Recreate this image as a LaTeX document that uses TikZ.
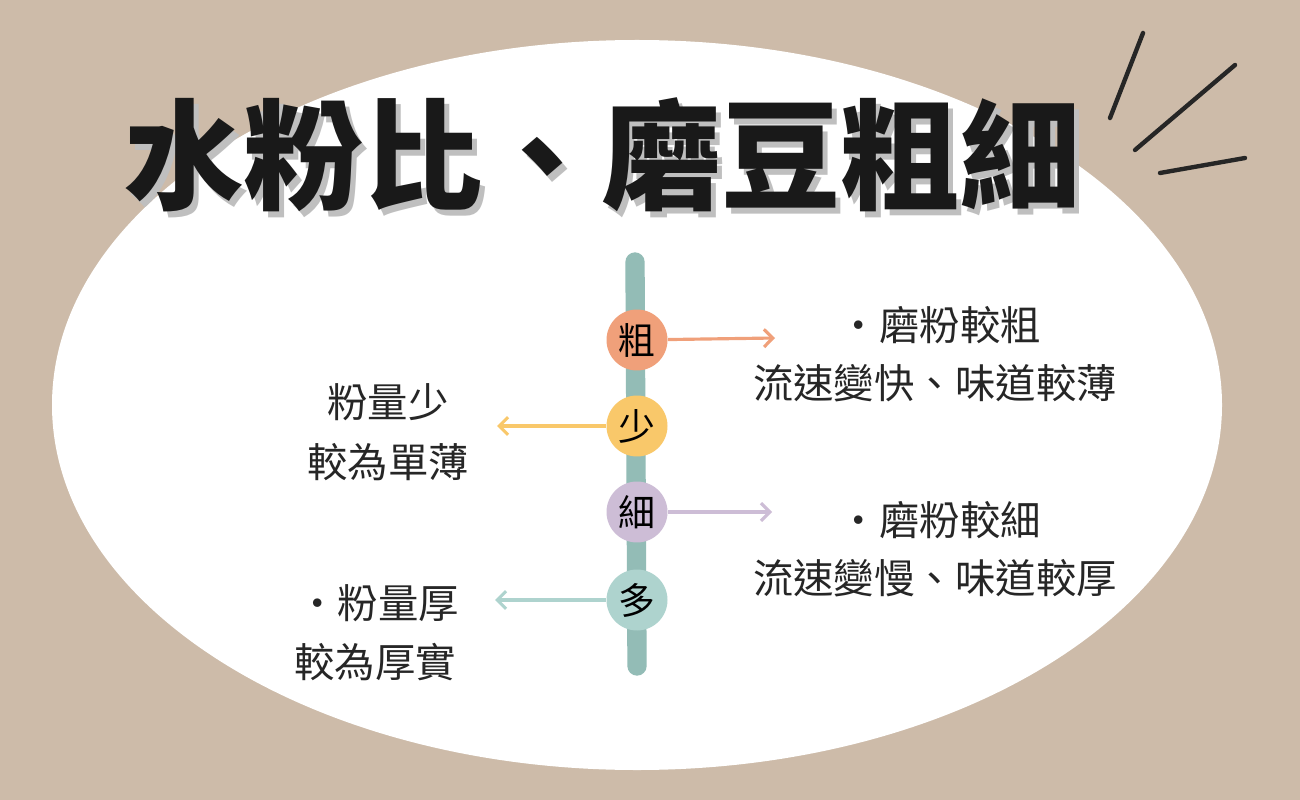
\documentclass[tikz,border=0pt]{standalone}
\usepackage{fontspec}
\setmainfont{Noto Sans CJK TC}
\newfontfamily\titlefont{Noto Sans CJK TC Black}[BoldFont={Noto Sans CJK TC Black}]
\usetikzlibrary{arrows.meta,positioning}
\definecolor{bgtan}{HTML}{CDBBA9}
\definecolor{barteal}{HTML}{93BCB6}
\definecolor{cgrind}{HTML}{F0A07A}
\definecolor{cless}{HTML}{F9C86A}
\definecolor{cfine}{HTML}{CDBDD6}
\definecolor{cmore}{HTML}{AED3CE}
\tikzset{
  dot/.style={circle, minimum size=1.22cm, inner sep=0pt, font=\fontsize{21}{21}\selectfont},
  note/.style={font=\fontsize{23}{23}\selectfont, text=black!85},
  link/.style={line width=1.8pt, -{Straight Barb[length=5pt,width=10pt]}}
}
\begin{document}
\begin{tikzpicture}[x=0.02cm, y=-0.02cm]
  \fill[bgtan] (0,0) rectangle (1300,800);
  \useasboundingbox (0,0) rectangle (1300,800);
  \fill[white] (637,405) ellipse (585 and 365);
  % title, with its shadow
  \node (titleshade) [text=black!25, font=\fontsize{68}{68}\titlefont] at (607,161) {水粉比、磨豆粗細};
  \node (title) [text=black!90, font=\fontsize{68}{68}\titlefont] at (602,155) {水粉比、磨豆粗細};
  \draw[line width=2.5pt, black!85, line cap=round] (1110,118) -- (1143,33);
  \draw[line width=2.5pt, black!85, line cap=round] (1135,150) -- (1235,65);
  \draw[line width=2.5pt, black!85, line cap=round] (1160,173) -- (1245,158);
  % axis
  \draw[barteal, line width=11pt, line cap=round] (635,262) -- (637,666);
  \node (grind) [dot, fill=cgrind] at (637,340) {粗};
  \node (less) [dot, fill=cless] at (637,426) {少};
  \node (fine) [dot, fill=cfine] at (637,512) {細};
  \node (more) [dot, fill=cmore] at (637,600) {多};
  \coordinate (grindend) at (775,338);
  \coordinate (lessend) at (497,426);
  \coordinate (fineend) at (772,512);
  \coordinate (moreend) at (495,600);
  \draw[link, cgrind] (grind) -- (grindend);
  \draw[link, cless] (less) -- (lessend);
  \draw[link, cfine] (fine) -- (fineend);
  \draw[link, cmore] (more) -- (moreend);
  % notes
  \node[note] at (940,325) {・磨粉較粗};
  \node[note] at (935,383) {流速變快、味道較薄};
  \node[note] at (388,402) {粉量少};
  \node[note] at (388,462) {較為單薄};
  \node[note] at (940,520) {・磨粉較細};
  \node[note] at (935,578) {流速變慢、味道較厚};
  \node[note] at (378,603) {・粉量厚};
  \node[note] at (375,662) {較為厚實};
\end{tikzpicture}
\end{document}
